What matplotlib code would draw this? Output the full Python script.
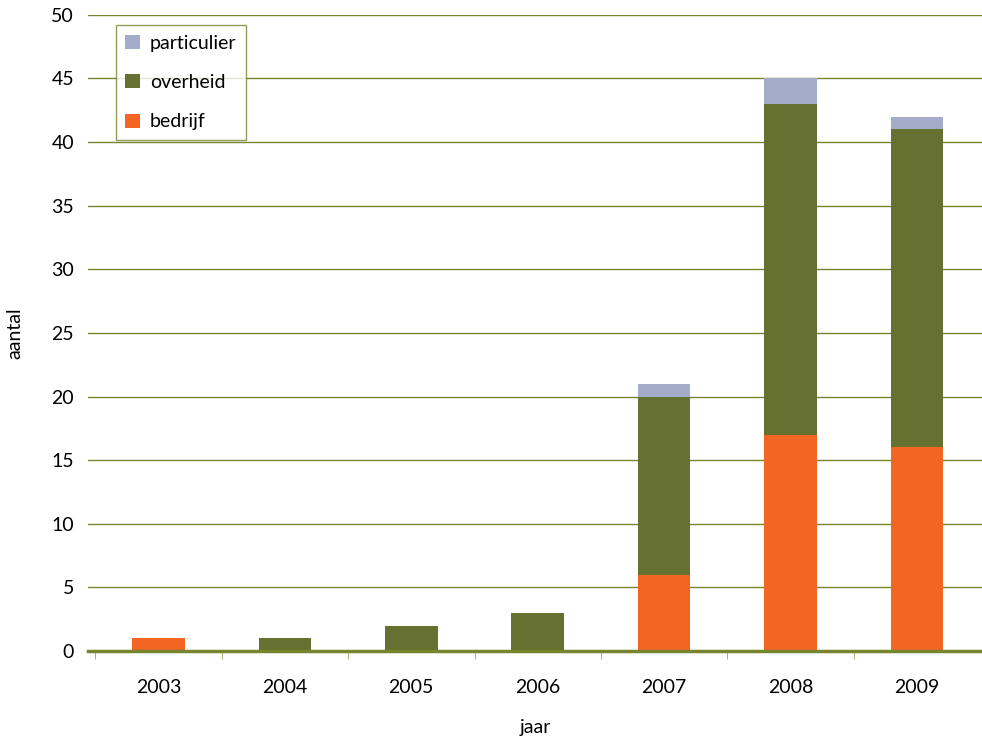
import matplotlib
matplotlib.use("Agg")
import matplotlib.pyplot as plt
import numpy as np

plt.rcParams['font.family'] = ['Lato', 'DejaVu Sans']

jaren = ['2003', '2004', '2005', '2006', '2007', '2008', '2009']
bedrijf = [1, 0, 0, 0, 6, 17, 16]
overheid = [0, 1, 2, 3, 14, 26, 25]
particulier = [0, 0, 0, 0, 1, 2, 1]

c_bedrijf = '#f26522'
c_overheid = '#667030'
c_particulier = '#a3adca'
c_grid = '#77852f'

fig = plt.figure(figsize=(9.82, 7.39), dpi=100)
ax = fig.add_axes([0.0896, 0.119, 0.9104, 0.861])

x = np.arange(len(jaren))
b = np.array(bedrijf)
o = np.array(overheid)
p = np.array(particulier)
w = 0.415
ax.bar(x, b, w, color=c_bedrijf, label='bedrijf', zorder=3)
ax.bar(x, o, w, bottom=b, color=c_overheid, label='overheid', zorder=3)
ax.bar(x, p, w, bottom=b + o, color=c_particulier, label='particulier', zorder=3)

ax.set_ylim(0, 50)
ax.set_xlim(-0.558, 6.515)
ax.set_yticks(range(0, 51, 5))
ax.yaxis.grid(True, color=c_grid, linewidth=1.0, zorder=0)
ax.set_axisbelow(True)
for s in ['top', 'right', 'left']:
    ax.spines[s].set_visible(False)
ax.spines['bottom'].set_color(c_grid)
ax.spines['bottom'].set_linewidth(2.5)
ax.spines['bottom'].set_zorder(4)

ax.set_xticks(x)
ax.set_xticklabels(jaren, fontsize=14)
ax.tick_params(axis='x', length=0, pad=20)
ax.set_xticks(np.arange(-0.5, 6.5), minor=True)
ax.tick_params(axis='x', which='minor', length=6, color='#9aa56a', direction='out')
ax.tick_params(axis='y', length=0, labelsize=14, pad=10)

ax.set_xlabel('jaar', fontsize=14, labelpad=17)
ax.set_ylabel('aantal', fontsize=14, labelpad=20)

handles, labels = ax.get_legend_handles_labels()
leg = ax.legend(handles[::-1], labels[::-1], loc='upper left',
                bbox_to_anchor=(0.031, 0.984), fontsize=14, frameon=True,
                fancybox=False, handlelength=0.75, handleheight=0.75,
                labelspacing=1.15, borderpad=0.5, handletextpad=0.5,
                borderaxespad=0)
leg.get_frame().set_edgecolor(c_grid)
leg.get_frame().set_linewidth(1.0)

fig.savefig('out.png', dpi=100)
